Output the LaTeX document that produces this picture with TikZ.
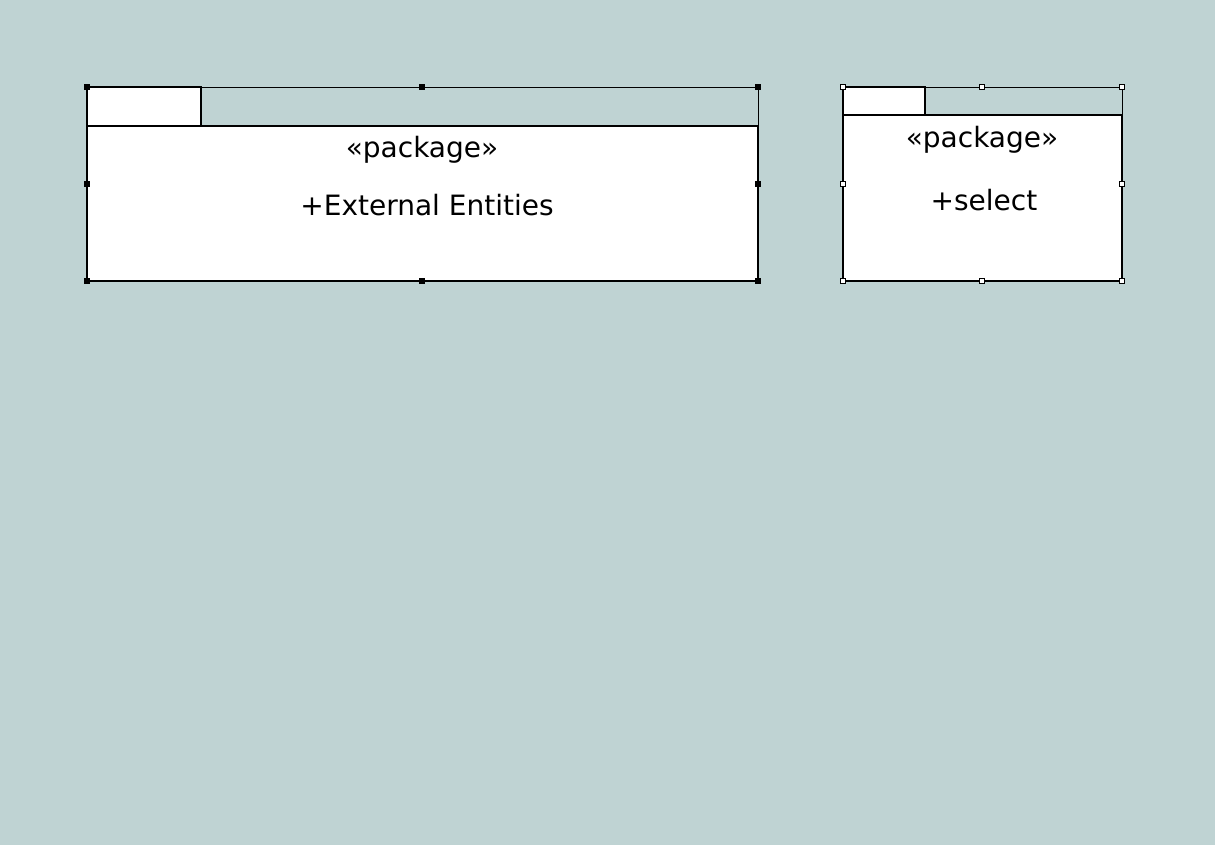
\documentclass[tikz,border=0pt]{standalone}
\usepackage{fontspec}
\setmainfont{DejaVu Sans}
\definecolor{bg}{RGB}{191,211,211}
\tikzset{
  pkgbody/.style={draw=black, fill=white, line width=2.2pt, inner sep=0pt, outer sep=0pt, anchor=north west},
  pkgtab/.style={draw=black, fill=white, line width=1.6pt, inner sep=0pt, outer sep=0pt, anchor=north west},
  sel/.style={draw=black, line width=0.8pt},
  hdlB/.style={draw=black, fill=black, line width=0.5pt, minimum size=5pt, inner sep=0pt},
  hdlW/.style={draw=black, fill=white, line width=0.8pt, minimum size=5.5pt, inner sep=0pt},
  lbl/.style={font=\fontsize{28}{33}\selectfont, text=black, inner sep=0pt}
}
\begin{document}
\begin{tikzpicture}[x=1pt,y=-1pt]
\useasboundingbox (0,0) rectangle (1231,861);
\fill[bg] (0,0) rectangle (1215,845);
% package 1
\coordinate (s1a) at (87,87);
\coordinate (s1b) at (758,281);
\draw[sel] (s1a) rectangle (s1b);
\node[pkgtab, minimum width=114pt, minimum height=39pt] (t1) at (87,87) {};
\node[pkgbody, minimum width=671pt, minimum height=155pt] (b1) at (87,126) {};
\node[lbl] (st1) at (422,150) {«package»};
\node[lbl] (n1) at (427,205) {+External Entities};
\foreach \p/\n in {{87,87}/a,{422,87}/b,{758,87}/c,{87,184}/d,{758,184}/e,{87,281}/f,{422,281}/g,{758,281}/h}
  \node[hdlB] (h1\n) at (\p) {};
% package 2
\coordinate (s2a) at (843,87);
\coordinate (s2b) at (1122,281);
\draw[sel] (s2a) rectangle (s2b);
\node[pkgtab, minimum width=82pt, minimum height=28pt] (t2) at (843,87) {};
\node[pkgbody, minimum width=279pt, minimum height=166pt] (b2) at (843,115) {};
\node[lbl] (st2) at (982,140) {«package»};
\node[lbl] (n2) at (984,200) {+select};
\foreach \p/\n in {{843,87}/a,{982,87}/b,{1122,87}/c,{843,184}/d,{1122,184}/e,{843,281}/f,{982,281}/g,{1122,281}/h}
  \node[hdlW] (h2\n) at (\p) {};
\end{tikzpicture}
\end{document}
